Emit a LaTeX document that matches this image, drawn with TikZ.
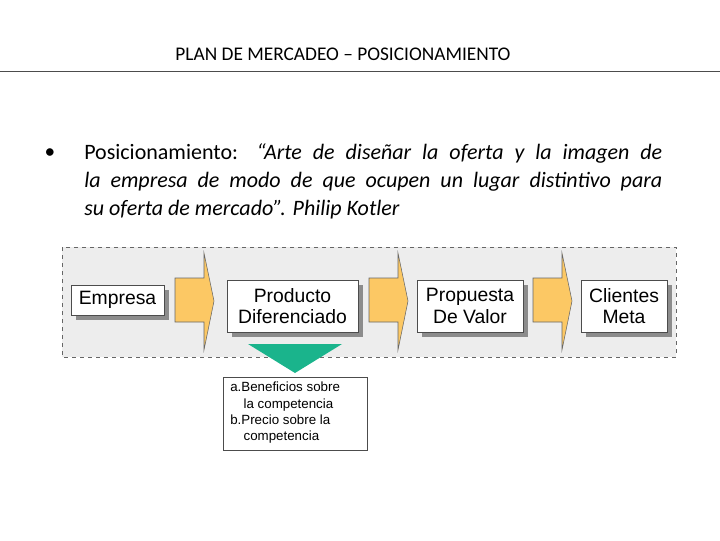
\documentclass[tikz,border=0pt]{standalone}
\usepackage{fontspec}
\setmainfont{Carlito}
\newfontfamily\arialf{Liberation Sans}
\begin{document}
\begin{tikzpicture}[x=0.75pt,y=-0.75pt,
  sbox/.style={draw=black!70,fill=white,line width=0.5pt,font=\arialf\fontsize{14.5}{16}\selectfont,align=center,inner sep=0pt},
  shadow/.style={fill=black!45},
  arr/.style={fill={rgb,255:red,252;green,200;blue,100},draw=black!60,line width=0.4pt}]
\useasboundingbox (0,0) rectangle (720,540);
\node[font=\fontsize{14.5}{16}\selectfont] (title) at (343,54) {PLAN DE MERCADEO – POSICIONAMIENTO};
\draw[black!70,line width=0.6pt] (0,71) -- (720,71);
\node[font=\fontsize{16}{21}\selectfont] (bul) at (50,154) {•};
\node[anchor=north west,align=left,inner sep=0pt,font=\fontsize{16.5}{21}\selectfont] (txt) at (84,143)
 {\makebox[433.5pt][s]{Posicionamiento: \textit{“Arte de diseñar la oferta y la imagen de}}\\
  \makebox[433.5pt][s]{\textit{la empresa de modo de que ocupen un lugar distintivo para}}\\
  \textit{su oferta de mercado”. Philip Kotler}};
\draw[dashed,draw=black!60,fill=black!7,line width=0.5pt] (62,247) rectangle (676,357);
\fill[shadow] (76,290) rectangle (169,320);
\fill[shadow] (232,285) rectangle (363,337);
\fill[shadow] (422,285) rectangle (528,337);
\fill[shadow] (586,285) rectangle (672,337);
\node[sbox,minimum width=93*0.75pt,minimum height=30*0.75pt] (emp) at (117.5,300) {Empresa};
\node[sbox,minimum width=131*0.75pt,minimum height=52*0.75pt] (prod) at (292.5,306) {Producto\\Diferenciado};
\node[sbox,minimum width=106*0.75pt,minimum height=52*0.75pt] (prop) at (470,306) {Propuesta\\De Valor};
\node[sbox,minimum width=86*0.75pt,minimum height=52*0.75pt] (cli) at (624,306) {Clientes\\Meta};
\foreach \x in {175,369,533}{
  \draw[arr] (\x,278) -- (\x+29,278) -- (\x+29,253) -- (\x+39,301) -- (\x+29,350) -- (\x+29,322) -- (\x,322) -- cycle;
}
\fill[fill={rgb,255:red,26;green,180;blue,140}] (248,344) -- (342,344) -- (295,373) -- cycle;
\node[draw=black!70,fill=white,line width=0.5pt,anchor=north west,minimum width=144*0.75pt,minimum height=73*0.75pt,inner sep=0pt] (ben) at (223,377) {};
\node[anchor=north west,align=left,inner sep=0pt,font=\arialf\fontsize{10}{12.2}\selectfont] at (230,382)
 {a.Beneficios sobre\\\hspace*{1em}la competencia\\b.Precio sobre la\\\hspace*{1em}competencia};
\end{tikzpicture}
\end{document}
